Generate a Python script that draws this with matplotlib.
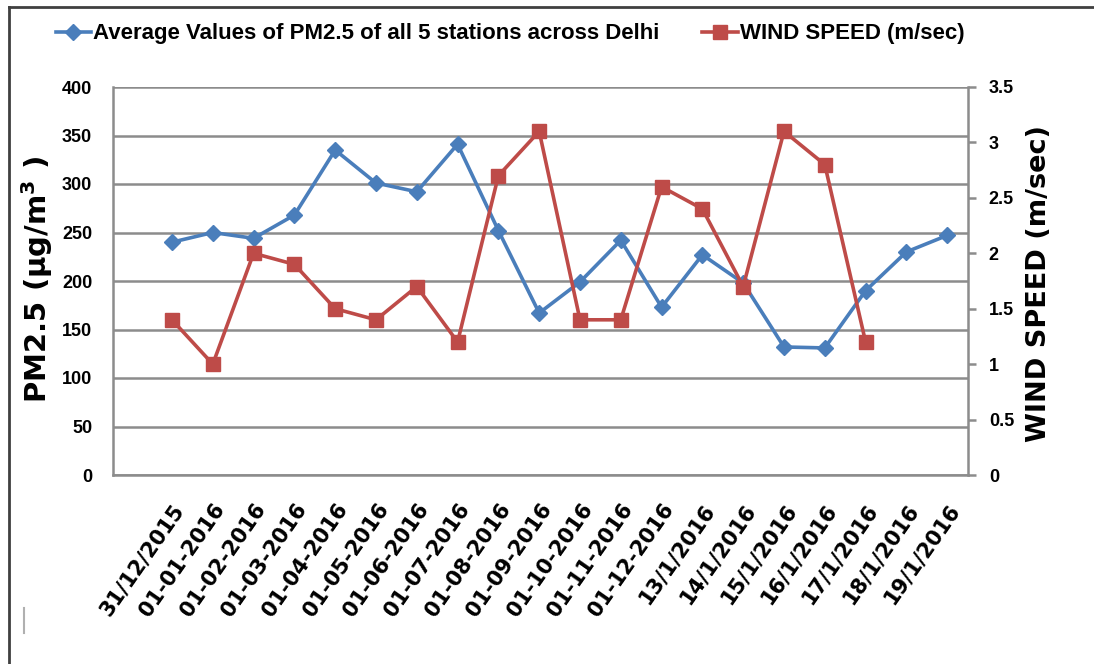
import matplotlib
matplotlib.use("Agg")
import matplotlib.pyplot as plt
import numpy as np

dates = ["31/12/2015", "01-01-2016", "01-02-2016", "01-03-2016", "01-04-2016",
         "01-05-2016", "01-06-2016", "01-07-2016", "01-08-2016", "01-09-2016",
         "01-10-2016", "01-11-2016", "01-12-2016", "13/1/2016", "14/1/2016",
         "15/1/2016", "16/1/2016", "17/1/2016", "18/1/2016", "19/1/2016"]
pm25 = [240, 250, 244, 268, 335, 301, 292, 341, 252, 167,
        199, 242, 173, 227, 198, 132, 131, 190, 230, 247]
wind = [1.4, 1.0, 2.0, 1.9, 1.5, 1.4, 1.7, 1.2, 2.7, 3.1,
        1.4, 1.4, 2.6, 2.4, 1.7, 3.1, 2.8, 1.2, np.nan, np.nan]

blue = "#4a7ebb"
red = "#be4b48"
grey = "#8c8c8c"

plt.rcParams['font.family'] = ['Liberation Sans', 'DejaVu Sans']
plt.rcParams['font.weight'] = 'bold'

W, H = 1094, 664
fig = plt.figure(figsize=(W / 100, H / 100), dpi=100)
ax = fig.add_axes([113 / W, 1 - 475 / H, (968 - 113) / W, (475 - 87) / H])
ax2 = ax.twinx()

x = np.arange(len(dates))
l1, = ax.plot(x, pm25, color=blue, lw=2.6, marker='D', ms=8, zorder=3,
              label="Average Values of PM2.5 of all 5 stations across Delhi")
l2, = ax2.plot(x, wind, color=red, lw=2.6, marker='s', ms=10, zorder=3,
               label="WIND SPEED (m/sec)")

ax.set_xlim(-1.446, 19.51)
ax.set_ylim(0, 400)
ax.set_yticks(np.arange(0, 401, 50))
ax2.set_ylim(0, 3.5)
ax2.set_yticks(np.arange(0, 3.51, 0.5))
ax2.set_yticklabels(["0", "0.5", "1", "1.5", "2", "2.5", "3", "3.5"])

ax.yaxis.grid(True, color=grey, lw=1.8)
ax.set_axisbelow(True)
for s in ["top", "right"]:
    ax.spines[s].set_visible(False)
for s in ["top", "left", "bottom"]:
    ax2.spines[s].set_visible(False)
for sp in [ax.spines["left"], ax.spines["bottom"], ax2.spines["right"]]:
    sp.set_color(grey)
    sp.set_linewidth(1.8)

ax.tick_params(axis='y', length=0, pad=15, labelsize=13)
ax.tick_params(axis='x', length=0, pad=18)
ax2.tick_params(axis='y', length=6, width=1.8, color=grey, pad=9, labelsize=13)

ax.set_xticks(x)
ax.set_xticklabels(dates, rotation=55, ha='right', va='top',
                   rotation_mode='anchor', fontsize=15, family='DejaVu Sans')

ax.set_ylabel("PM2.5 (µg/m$^3$ )", fontsize=21, family='DejaVu Sans', fontweight='bold')
ax.yaxis.set_label_coords(55 / W, 1 - 280 / H, transform=fig.transFigure)
ax2.set_ylabel("WIND SPEED (m/sec)", fontsize=19.5, family='DejaVu Sans', fontweight='bold')
ax2.yaxis.set_label_coords(1026 / W, 1 - 283 / H, transform=fig.transFigure)

fig.legend(handles=[l1, l2], loc='center', bbox_to_anchor=(510 / W, 1 - 34 / H),
           ncol=2, frameon=False, handlelength=1.6, handletextpad=0.1,
           columnspacing=1.9,
           prop={'family': ['Liberation Sans', 'DejaVu Sans'],
                 'weight': 'bold', 'size': 16})

# frame lines of the original picture
fig.add_artist(plt.Line2D([9 / W, 9 / W], [0, 1 - 7 / H], color="#404040", lw=2,
                          transform=fig.transFigure))
fig.add_artist(plt.Line2D([9 / W, 1], [1 - 7 / H, 1 - 7 / H], color="#404040", lw=2,
                          transform=fig.transFigure))
fig.add_artist(plt.Line2D([24 / W, 24 / W], [1 - 633 / H, 1 - 608 / H], color="#b0b0b0",
                          lw=1.5, transform=fig.transFigure))

fig.savefig("out.png", dpi=100)
